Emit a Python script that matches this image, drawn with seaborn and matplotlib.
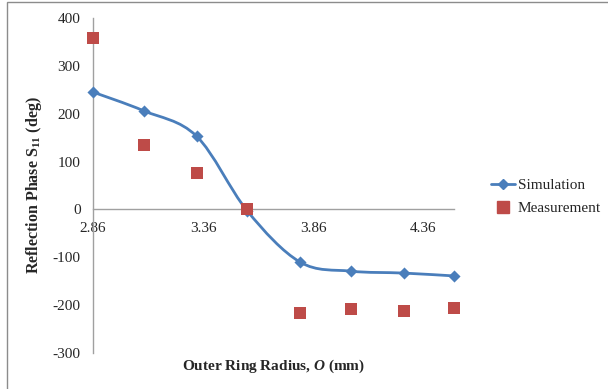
import numpy as np
import pandas as pd
import seaborn as sns
import matplotlib.pyplot as plt
from matplotlib.path import Path
from matplotlib.patches import PathPatch, Rectangle
from matplotlib.lines import Line2D

# values
radius = [2.86, 3.09, 3.33, 3.56, 3.80, 4.03, 4.27, 4.50]
simulation = [245, 206, 153, -3, -110, -129, -133, -139]
measurement = [358, 134, 76, 0, -216, -208, -212, -206]

blue = '#4A7EBB'
red = '#BE4B48'

sns.set_style('white')
plt.rcParams['font.family'] = ['Liberation Serif', 'DejaVu Serif']
plt.rcParams['axes.unicode_minus'] = False
plt.rcParams['mathtext.fontset'] = 'custom'
plt.rcParams['mathtext.rm'] = 'Liberation Serif:bold'
plt.rcParams['mathtext.it'] = 'Liberation Serif:italic:bold'
plt.rcParams['mathtext.bf'] = 'Liberation Serif:bold'

df = pd.DataFrame({'radius': radius, 'simulation': simulation, 'measurement': measurement})

fig = plt.figure(figsize=(6.08, 3.89), dpi=100)
ax = fig.add_axes([0.153, 0.0925, 0.594, 0.8615])

# smoothed line like Excel's (Catmull-Rom as cubic Bezier segments)
pts = df[['radius', 'simulation']].to_numpy(dtype=float)
verts = [pts[0]]
codes = [Path.MOVETO]
n = len(pts)
for i in range(n - 1):
    p0 = pts[max(i - 1, 0)]
    p1 = pts[i]
    p2 = pts[i + 1]
    p3 = pts[min(i + 2, n - 1)]
    verts += [p1 + (p2 - p0) / 6, p2 - (p3 - p1) / 6, p2]
    codes += [Path.CURVE4] * 3
ax.add_patch(PathPatch(Path(verts, codes), facecolor='none', edgecolor=blue, lw=2.0,
                       zorder=2, clip_on=False))

sns.scatterplot(data=df, x='radius', y='simulation', marker='D', s=38, color=blue,
                edgecolor=blue, linewidth=0, ax=ax, zorder=3, clip_on=False)
sns.scatterplot(data=df, x='radius', y='measurement', marker='s', s=68, color=red,
                edgecolor=red, linewidth=0, ax=ax, zorder=4, clip_on=False)

ax.set_xlim(2.86, 4.50)
ax.set_ylim(-300, 400)
ax.set_xticks([2.86, 3.36, 3.86, 4.36])
ax.set_xticklabels(['2.86', '3.36', '3.86', '4.36'])
ax.set_yticks(range(-300, 401, 100))

for s in ['top', 'right']:
    ax.spines[s].set_visible(False)
ax.spines['bottom'].set_position(('data', 0))
ax.spines['bottom'].set_color('#a0a0a0')
ax.spines['left'].set_color('#a0a0a0')
ax.spines['bottom'].set_linewidth(1.0)
ax.spines['left'].set_linewidth(1.0)
ax.tick_params(axis='x', length=0, pad=9, labelsize=11)
ax.tick_params(axis='y', length=0, pad=9, labelsize=11)

ax.set_xlabel('Outer Ring Radius, $O$ (mm)', fontsize=11, fontweight='bold')
ax.xaxis.set_label_coords(0.5, -0.015)
ax.set_ylabel('Reflection Phase S$_{11}$ (deg)', fontsize=11.5, fontweight='bold', va='center')
ax.yaxis.set_label_coords(-0.163, 0.5)

handles = [
    Line2D([], [], color=blue, lw=2.0, marker='D', markersize=5.5),
    Line2D([], [], color=red, lw=0, marker='s', markersize=8),
]
fig.legend(handles, ['Simulation', 'Measurement'], loc='center left',
           bbox_to_anchor=(0.795, 0.494), frameon=False, fontsize=11,
           handlelength=1.6, handletextpad=0.15, labelspacing=0.6, borderpad=0)

# chart area border
fig.patches.append(Rectangle((7 / 608, -0.05), 1.1, 1 - 2 / 389 + 0.05,
                             transform=fig.transFigure, fill=False,
                             edgecolor='#8c8c8c', lw=1.0))

fig.savefig('out.png', dpi=100)
